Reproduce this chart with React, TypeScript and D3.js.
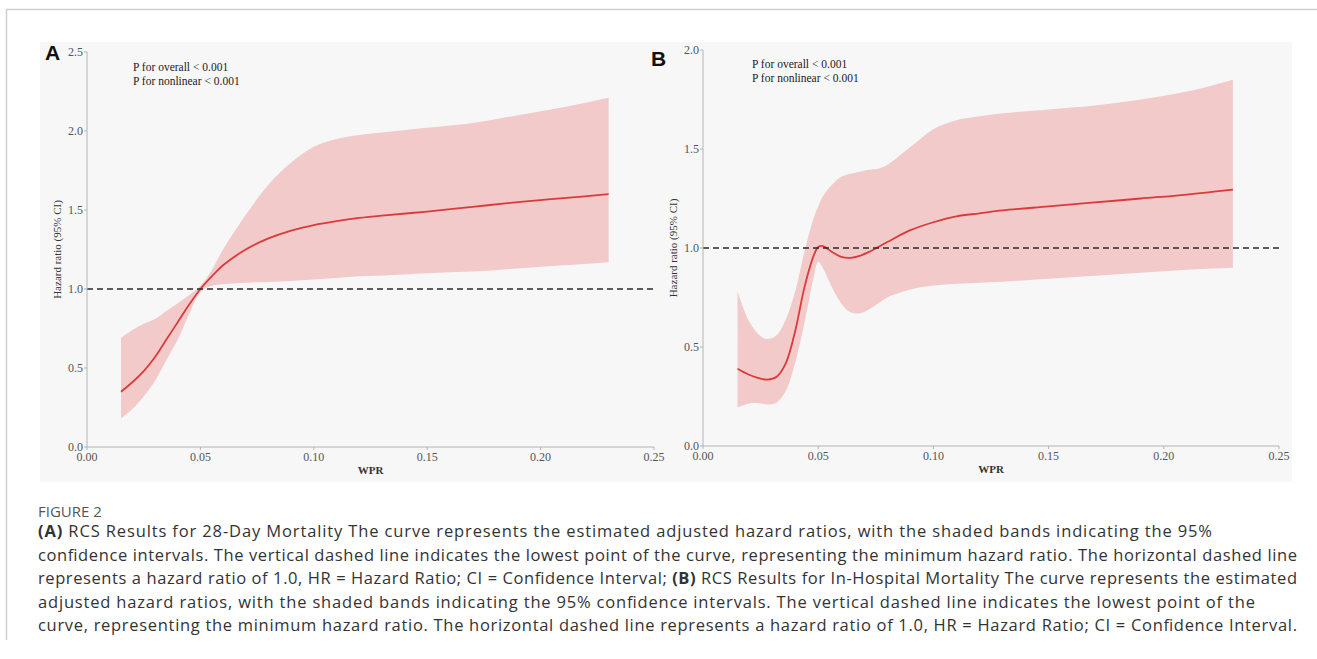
import React from "react";
import * as d3 from "d3";

// Panel A: 28-day mortality
const wprA = [0.015, 0.02, 0.025, 0.03, 0.035, 0.04, 0.045, 0.05, 0.055, 0.06, 0.07, 0.08, 0.09, 0.1, 0.11, 0.12, 0.13, 0.15, 0.17, 0.19, 0.21, 0.23];
const hrA = [0.35, 0.41, 0.48, 0.57, 0.68, 0.79, 0.9, 1.0, 1.08, 1.15, 1.25, 1.32, 1.37, 1.405, 1.43, 1.45, 1.465, 1.49, 1.52, 1.55, 1.575, 1.6];
const upperA = [0.69, 0.74, 0.78, 0.81, 0.86, 0.91, 0.96, 1.02, 1.12, 1.25, 1.47, 1.66, 1.8, 1.9, 1.95, 1.975, 1.99, 2.02, 2.05, 2.1, 2.15, 2.21];
const lowerA = [0.18, 0.24, 0.32, 0.42, 0.55, 0.68, 0.84, 0.98, 1.02, 1.03, 1.04, 1.045, 1.05, 1.06, 1.07, 1.08, 1.085, 1.1, 1.11, 1.13, 1.15, 1.17];

// Panel B: in-hospital mortality
const wprB = [0.015, 0.02, 0.025, 0.028, 0.032, 0.036, 0.04, 0.044, 0.048, 0.05, 0.052, 0.056, 0.06, 0.064, 0.068, 0.072, 0.076, 0.08, 0.09, 0.1, 0.11, 0.12, 0.13, 0.15, 0.17, 0.19, 0.21, 0.23];
const hrB = [0.39, 0.36, 0.34, 0.335, 0.35, 0.42, 0.58, 0.8, 0.96, 1.005, 1.01, 0.98, 0.955, 0.95, 0.96, 0.98, 1.005, 1.03, 1.09, 1.13, 1.16, 1.175, 1.19, 1.21, 1.23, 1.25, 1.27, 1.295];
const upperB = [0.78, 0.63, 0.555, 0.54, 0.56, 0.64, 0.78, 0.98, 1.15, 1.21, 1.26, 1.32, 1.36, 1.375, 1.385, 1.395, 1.4, 1.42, 1.51, 1.6, 1.645, 1.665, 1.68, 1.7, 1.72, 1.75, 1.79, 1.85];
const lowerB = [0.195, 0.215, 0.215, 0.21, 0.22, 0.28, 0.42, 0.62, 0.85, 0.93, 0.9, 0.8, 0.72, 0.675, 0.67, 0.69, 0.72, 0.75, 0.79, 0.81, 0.82, 0.825, 0.83, 0.845, 0.86, 0.875, 0.89, 0.9];

const xTicks = [0, 0.05, 0.1, 0.15, 0.2, 0.25];
const yTicksA = [0, 0.5, 1, 1.5, 2, 2.5];
const yTicksB = [0, 0.5, 1, 1.5, 2];
const pLines = ["P for overall < 0.001", "P for nonlinear < 0.001"];

const captionLines = [
  { bold: "(A)", rest: " RCS Results for 28-Day Mortality The curve represents the estimated adjusted hazard ratios, with the shaded bands indicating the 95%", w: 1174 },
  { bold: "", rest: "confidence intervals. The vertical dashed line indicates the lowest point of the curve, representing the minimum hazard ratio. The horizontal dashed line", w: 1259 },
  { bold: "", rest: "represents a hazard ratio of 1.0, HR = Hazard Ratio; CI = Confidence Interval; |(B)| RCS Results for In-Hospital Mortality The curve represents the estimated", w: 1259 },
  { bold: "", rest: "adjusted hazard ratios, with the shaded bands indicating the 95% confidence intervals. The vertical dashed line indicates the lowest point of the", w: 1217 },
  { bold: "", rest: "curve, representing the minimum hazard ratio. The horizontal dashed line represents a hazard ratio of 1.0, HR = Hazard Ratio; CI = Confidence Interval.", w: 1259 },
];

const serif = "'Liberation Serif', 'Times New Roman', serif";
const sans = "'Open Sans', 'Noto Sans', sans-serif";

function Panel(props) {
  const { letter, x0, x1, y0, y1, yMax, yTicks, wpr, hr, lo, hi, letterX, letterY, noteX, noteY } = props;
  const x = d3.scaleLinear().domain([0, 0.25]).range([x0, x1]);
  const y = d3.scaleLinear().domain([0, yMax]).range([y0, y1]);
  const idx = d3.range(wpr.length);

  const band = d3.area<number>()
    .x(i => x(wpr[i]))
    .y0(i => y(lo[i]))
    .y1(i => y(hi[i]))
    .curve(d3.curveCatmullRom.alpha(0.5));
  const line = d3.line<number>()
    .x(i => x(wpr[i]))
    .y(i => y(hr[i]))
    .curve(d3.curveCatmullRom.alpha(0.5));

  const fmtY = d3.format(".1f");
  const fmtX = d3.format(".2f");

  return (
    <g>
      <path d={band(idx)} fill="#f2caca" />
      <path d={line(idx)} fill="none" stroke="#dc3a3a" strokeWidth={1.8} />
      <line x1={x0} x2={x1} y1={y(1)} y2={y(1)} stroke="#2a2a2a" strokeWidth={1.6} strokeDasharray="6,4" />

      {/* axes */}
      <line x1={x0} x2={x0} y1={y0} y2={y1} stroke="#b4b4b4" strokeWidth={1} />
      <line x1={x0} x2={x1} y1={y0} y2={y0} stroke="#b4b4b4" strokeWidth={1} />
      {yTicks.map(t => (
        <g key={"y" + t}>
          <line x1={x0 - 3} x2={x0} y1={y(t)} y2={y(t)} stroke="#b4b4b4" />
          <text x={x0 - 4} y={y(t) + 4} textAnchor="end" fontFamily={serif} fontSize={12} fill="#555">{fmtY(t)}</text>
        </g>
      ))}
      {xTicks.map(t => (
        <g key={"x" + t}>
          <line x1={x(t)} x2={x(t)} y1={y0} y2={y0 + 3} stroke="#b4b4b4" />
          <text x={x(t)} y={y0 + 14} textAnchor="middle" fontFamily={serif} fontSize={12} fill="#555">{fmtX(t)}</text>
        </g>
      ))}
      <text x={(x0 + x1) / 2} y={y0 + 27} textAnchor="middle" fontFamily={serif} fontSize={11} fontWeight="bold" fill="#333">WPR</text>
      <text transform={`translate(${x0 - 26},${(y0 + y1) / 2}) rotate(-90)`} textAnchor="middle" fontFamily={serif} fontSize={11} fill="#333">Hazard ratio (95% CI)</text>

      {pLines.map((p, i) => (
        <text key={p} x={noteX} y={noteY + i * 13.5} fontFamily={serif} fontSize={11.5} fill="#222">{p}</text>
      ))}
      <text x={letterX} y={letterY} fontFamily="'Liberation Sans', Arial, sans-serif" fontSize={21} fontWeight="bold" fill="#111">{letter}</text>
    </g>
  );
}

export default function App() {
  return (
    <svg width={1317} height={659} style={{ position: "absolute", left: 0, top: 0, background: "#fff" }}>
      <line x1={6} x2={1317} y1={9.5} y2={9.5} stroke="#cfcfcf" strokeWidth={1.5} />
      <line x1={6.5} x2={6.5} y1={9} y2={640} stroke="#cfcfcf" strokeWidth={1.5} />
      <rect x={40} y={42} width={1252} height={440} fill="#f7f7f7" />

      <Panel letter="A" x0={87} x1={654} y0={447} y1={52} yMax={2.5} yTicks={yTicksA}
        wpr={wprA} hr={hrA} lo={lowerA} hi={upperA} letterX={45} letterY={60} noteX={133} noteY={71} />
      <Panel letter="B" x0={703} x1={1279} y0={446} y1={50} yMax={2.0} yTicks={yTicksB}
        wpr={wprB} hr={hrB} lo={lowerB} hi={upperB} letterX={651} letterY={66} noteX={752} noteY={68} />

      <text x={38} y={517} fontFamily={sans} fontSize={15} fill="#555">FIGURE 2</text>
      {captionLines.map((c, i) => {
        const parts = c.rest.split("|");
        return (
          <text key={i} x={38} y={537 + i * 23.5} fontFamily={sans} fontSize={16.5} fill="#333"
            textLength={c.w} lengthAdjust="spacing">
            {c.bold && <tspan fontWeight="bold">{c.bold}</tspan>}
            {parts.map((p, j) => (
              <tspan key={j} fontWeight={j === 1 ? "bold" : "normal"}>{p}</tspan>
            ))}
          </text>
        );
      })}
    </svg>
  );
}
